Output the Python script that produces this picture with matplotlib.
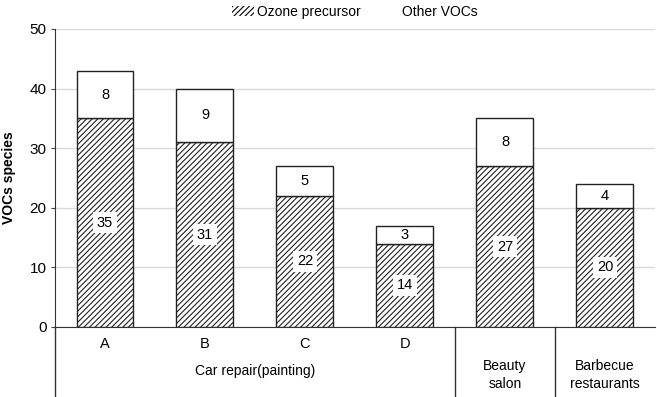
import matplotlib
matplotlib.use("Agg")
import matplotlib.pyplot as plt
from matplotlib.patches import Patch
import matplotlib.transforms as mtransforms

plt.rcParams['font.family'] = ['Liberation Sans', 'DejaVu Sans']
plt.rcParams['hatch.linewidth'] = 0.8

sub_labels = ["A", "B", "C", "D", "", ""]
group_labels = ["Car repair(painting)", "Beauty\nsalon", "Barbecue\nrestaurants"]
group_spans = [(0, 3), (4, 4), (5, 5)]
ozone = [35, 31, 22, 14, 27, 20]
other = [8, 9, 5, 3, 8, 4]
yticks = [0, 10, 20, 30, 40, 50]

fig = plt.figure(figsize=(6.57, 3.97), dpi=100)
ax = fig.add_axes([55/657, 70/397, 600/657, 298/397])

x = list(range(len(ozone)))
w = 0.57
ax.bar(x, ozone, width=w, facecolor='white', edgecolor='#222222', linewidth=1.0, hatch='//////', zorder=3)
ax.bar(x, other, width=w, bottom=ozone, facecolor='white', edgecolor='#222222', linewidth=1.0, zorder=3)

for i in x:
    ax.text(i, ozone[i] / 2, str(ozone[i]), ha='center', va='center', fontsize=10.5, zorder=5,
            bbox=dict(facecolor='white', edgecolor='none', pad=2.5))
    ax.text(i, ozone[i] + other[i] / 2, str(other[i]), ha='center', va='center', fontsize=10.5, zorder=5)

ax.set_xlim(-0.5, 5.5)
ax.set_ylim(0, 50)
ax.set_yticks(yticks)
ax.yaxis.grid(True, color='#d9d9d9', linewidth=1.0, zorder=0)
ax.set_axisbelow(True)
ax.tick_params(axis='y', labelsize=11, length=3, width=0.8, color='#444444', pad=3)
ax.set_xticks([])
for s in ['top', 'right']:
    ax.spines[s].set_visible(False)
ax.spines['left'].set_color('#333333')
ax.spines['bottom'].set_color('#333333')
ax.set_ylabel("VOCs species", fontsize=10, fontweight='bold', labelpad=10)

trans = mtransforms.blended_transform_factory(ax.transData, ax.transAxes)
bottom_y = -70/298
for xs in [-0.5, 3.5, 4.5]:
    ax.plot([xs, xs], [0, bottom_y], transform=trans, color='#333333', linewidth=1.0, clip_on=False)
for i, lab in enumerate(sub_labels):
    if lab:
        ax.text(i, -17/298, lab, transform=trans, ha='center', va='center', fontsize=10.5)
for (a, b), lab in zip(group_spans, group_labels):
    yy = -44/298 if '\n' not in lab else -48/298
    ax.text((a + b) / 2, yy, lab, transform=trans, ha='center', va='center', fontsize=10, linespacing=1.35)

handles = [Patch(facecolor='white', edgecolor='black', linewidth=0, hatch='//////'),
           Patch(facecolor='white', edgecolor='white', linewidth=0)]
fig.legend(handles, ["Ozone precursor", "Other VOCs"], loc='center', bbox_to_anchor=(0.54, 0.97),
           ncol=2, frameon=False, fontsize=10, handlelength=1.6, handletextpad=0.2, columnspacing=1.2)

fig.savefig("out.png", dpi=100)
